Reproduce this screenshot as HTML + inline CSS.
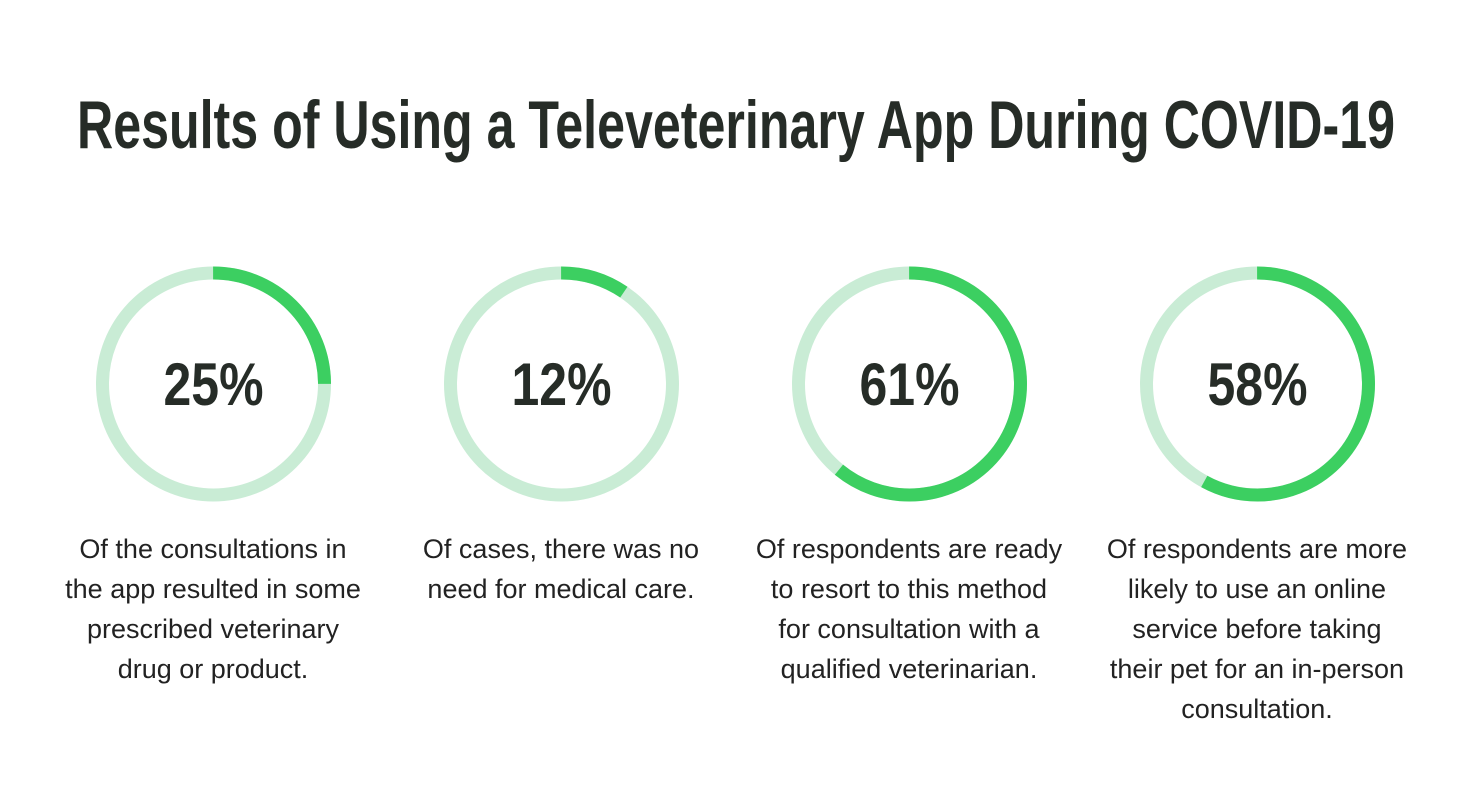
<!DOCTYPE html>
<html><head><meta charset="utf-8"><style>
body{margin:0;width:1472px;height:800px;background:#fff;overflow:hidden}
svg{display:block}
.d{font-family:"Liberation Sans",sans-serif;font-size:27px;fill:#222;text-anchor:middle}
.p{font-family:"Liberation Sans",sans-serif;font-weight:bold;font-size:60px;fill:#262c27;text-anchor:middle}
</style></head><body>
<svg width="1472" height="800" viewBox="0 0 1472 800">
<text x="736" y="148" textLength="1318" lengthAdjust="spacingAndGlyphs" style="font-family:'Liberation Sans',sans-serif;font-weight:bold;font-size:68px;fill:#262c27;text-anchor:middle">Results of Using a Televeterinary App During COVID-19</text>
<g fill="none" stroke-width="13">
<circle cx="213.5" cy="384" r="111" stroke="#c9ecd5"/>
<circle cx="213.5" cy="384" r="111" stroke="#3ccf61" pathLength="100" stroke-dasharray="25 75" transform="rotate(-90 213.5 384)"/>
<circle cx="561.5" cy="384" r="111" stroke="#c9ecd5"/>
<circle cx="561.5" cy="384" r="111" stroke="#3ccf61" pathLength="100" stroke-dasharray="9.5 90.5" transform="rotate(-90 561.5 384)"/>
<circle cx="909.5" cy="384" r="111" stroke="#c9ecd5"/>
<circle cx="909.5" cy="384" r="111" stroke="#3ccf61" pathLength="100" stroke-dasharray="61 39" transform="rotate(-90 909.5 384)"/>
<circle cx="1257.5" cy="384" r="111" stroke="#c9ecd5"/>
<circle cx="1257.5" cy="384" r="111" stroke="#3ccf61" pathLength="100" stroke-dasharray="58 42" transform="rotate(-90 1257.5 384)"/>
</g>
<text class="p" x="213.5" y="405" textLength="100" lengthAdjust="spacingAndGlyphs">25%</text>
<text class="p" x="561.5" y="405" textLength="100" lengthAdjust="spacingAndGlyphs">12%</text>
<text class="p" x="909.5" y="405" textLength="100" lengthAdjust="spacingAndGlyphs">61%</text>
<text class="p" x="1257.5" y="405" textLength="100" lengthAdjust="spacingAndGlyphs">58%</text>
<text class="d" x="213" y="558">Of the consultations in</text>
<text class="d" x="213" y="598">the app resulted in some</text>
<text class="d" x="213" y="638">prescribed veterinary</text>
<text class="d" x="213" y="678">drug or product.</text>
<text class="d" x="561" y="558">Of cases, there was no</text>
<text class="d" x="561" y="598">need for medical care.</text>
<text class="d" x="909" y="558">Of respondents are ready</text>
<text class="d" x="909" y="598">to resort to this method</text>
<text class="d" x="909" y="638">for consultation with a</text>
<text class="d" x="909" y="678">qualified veterinarian.</text>
<text class="d" x="1257" y="558">Of respondents are more</text>
<text class="d" x="1257" y="598">likely to use an online</text>
<text class="d" x="1257" y="638">service before taking</text>
<text class="d" x="1257" y="678">their pet for an in-person</text>
<text class="d" x="1257" y="718">consultation.</text>
</svg>
</body></html>
